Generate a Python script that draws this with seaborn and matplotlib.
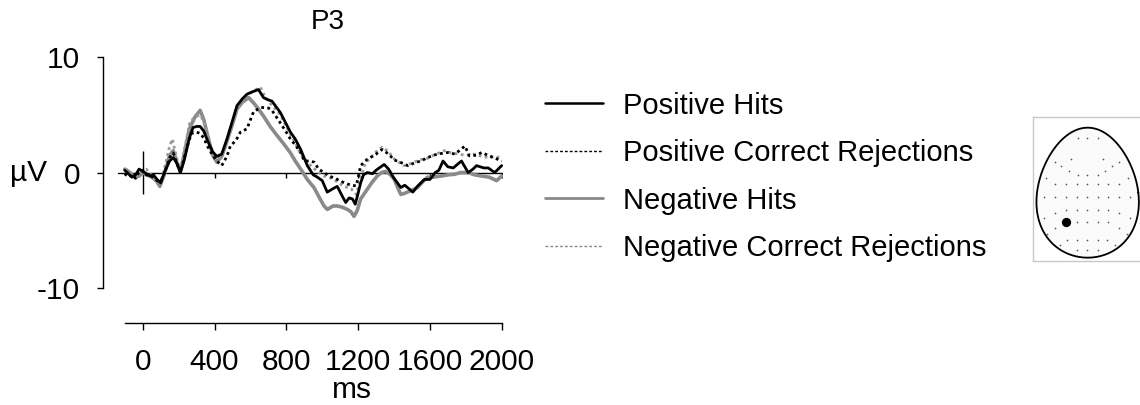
import numpy as np
import pandas as pd
import matplotlib
matplotlib.use("Agg")
import matplotlib.pyplot as plt
from matplotlib.lines import Line2D
import seaborn as sns

# --- ERP waveforms at electrode P3 (ms, microvolts) ---
pos_hits_ms = [-100, -80, -60, -40, -20, 0, 20, 40, 60, 80, 100, 120, 150, 170, 190, 210, 230, 260, 280,
               300, 320, 340, 360, 390, 413, 440, 469, 500, 525, 555, 581, 610, 645, 673, 700, 720, 767,
               800, 823, 850, 880, 917, 950, 973, 1000, 1028, 1060, 1084, 1110, 1131, 1150, 1169, 1184,
               1200, 1214, 1230, 1251, 1280, 1300, 1345, 1370, 1400, 1438, 1460, 1505, 1530, 1569, 1600,
               1630, 1650, 1673, 1700, 1730, 1760, 1776, 1813, 1840, 1860, 1900, 1925, 1961, 2000]
pos_hits_uv = [0.2, -0.1, -0.4, -0.2, 0.3, 0.1, -0.1, -0.3, -0.2, -0.6, -0.9, 0.0, 1.0, 1.3, 0.8, 0.0, 1.0,
               3.0, 3.9, 4.0, 4.0, 3.6, 2.8, 1.8, 1.4, 1.6, 2.9, 4.5, 5.8, 6.4, 6.8, 7.0, 7.2, 6.5, 6.3, 6.2,
               5.2, 4.2, 3.5, 2.9, 2.0, 0.6, -0.2, -0.4, -0.7, -1.7, -1.4, -1.2, -2.0, -2.6, -2.2, -2.3,
               -2.75, -1.8, -0.9, -0.2, 0.0, -0.1, 0.2, 0.7, 0.3, -0.5, -1.3, -1.1, -1.7, -1.2, -0.6, -0.6,
               0.0, 0.2, 1.0, 0.5, 0.4, 0.8, 1.0, 0.0, 0.3, 0.6, 0.4, 0.4, 0.0, 0.6]

pos_cr_ms = [-100, -80, -60, -40, -20, 0, 20, 40, 60, 80, 100, 120, 150, 170, 190, 210, 230, 260, 280, 300,
             320, 340, 360, 390, 413, 440, 469, 488, 520, 544, 581, 618, 660, 700, 720, 767, 800, 823, 850,
             880, 900, 930, 955, 980, 1010, 1040, 1084, 1110, 1140, 1165, 1188, 1200, 1214, 1251, 1280,
             1300, 1334, 1370, 1400, 1438, 1477, 1520, 1550, 1587, 1640, 1701, 1740, 1795, 1820, 1860,
             1888, 1930, 1970, 2000]
pos_cr_uv = [-0.1, -0.4, -0.2, -0.5, 0.1, 0.2, -0.2, -0.3, -0.4, -0.7, -0.8, -0.1, 1.3, 1.7, 0.8, 0.0, 1.2,
             2.9, 3.5, 3.5, 3.4, 3.0, 2.3, 1.5, 1.0, 0.6, 1.4, 2.3, 2.8, 3.5, 3.8, 5.3, 5.65, 5.6, 5.4, 4.3,
             3.5, 2.9, 2.4, 1.74, 1.0, 1.0, 0.9, 0.3, 0.0, -0.3, -0.6, -0.8, -1.0, -1.1, -1.16, -0.5, 0.6,
             1.16, 1.4, 1.6, 2.0, 1.6, 1.1, 0.87, 0.6, 0.87, 1.0, 1.3, 1.6, 1.74, 1.6, 2.3, 1.45, 1.5,
             1.74, 1.45, 1.2, 1.0]

neg_hits_ms = [-100, -80, -60, -40, -20, 0, 20, 40, 60, 80, 95, 120, 150, 170, 190, 210, 230, 260, 290, 320,
               340, 360, 390, 413, 440, 469, 500, 525, 555, 590, 620, 650, 673, 710, 749, 790, 823, 850,
               880, 917, 954, 985, 1010, 1029, 1060, 1084, 1110, 1140, 1160, 1177, 1195, 1214, 1251, 1280,
               1307, 1330, 1354, 1380, 1402, 1420, 1438, 1460, 1490, 1531, 1560, 1587, 1620, 1664, 1700,
               1738, 1770, 1813, 1850, 1888, 1930, 1972, 2000]
neg_hits_uv = [0.3, 0.1, -0.2, -0.4, -0.3, 0.0, -0.2, -0.3, -0.5, -0.8, -1.2, -0.2, 1.5, 1.9, 0.9, 0.1, 1.5,
               3.8, 4.8, 5.4, 4.6, 3.3, 1.5, 0.9, 1.4, 2.7, 4.2, 5.5, 6.1, 6.5, 6.0, 5.4, 4.9, 4.0, 3.2,
               2.4, 1.7, 1.0, 0.3, -0.6, -1.3, -2.2, -2.9, -3.2, -2.9, -2.9, -3.0, -3.2, -3.4, -3.8, -3.3,
               -2.3, -1.45, -0.8, -0.3, 0.0, 0.1, -0.2, -0.6, -1.3, -1.9, -1.8, -1.6, -1.3, -0.8, -0.4,
               -0.4, -0.3, -0.2, -0.15, 0.0, 0.0, -0.2, -0.3, -0.4, -0.7, -0.3]

neg_cr_ms = [-100, -80, -60, -40, -20, 0, 20, 40, 60, 80, 100, 120, 150, 165, 190, 210, 230, 263, 290, 320,
             340, 360, 390, 413, 440, 469, 500, 525, 555, 590, 620, 655, 680, 710, 740, 767, 800, 823, 850,
             880, 917, 950, 980, 1010, 1050, 1084, 1120, 1160, 1190, 1214, 1240, 1270, 1300, 1334, 1370,
             1400, 1455, 1500, 1540, 1580, 1620, 1680, 1720, 1760, 1800, 1850, 1888, 1930, 1970, 2000]
neg_cr_uv = [0.3, 0.2, -0.1, -0.2, 0.0, 0.1, 0.3, -0.1, -0.3, -0.8, -0.9, 0.3, 2.3, 2.9, 1.2, 0.1, 1.8,
             4.4, 4.8, 5.0, 4.4, 3.2, 1.6, 1.1, 1.5, 2.8, 4.3, 5.6, 6.3, 6.8, 7.1, 7.4, 6.6, 6.0, 5.5, 5.0,
             4.0, 3.3, 2.6, 1.6, 0.9, 0.4, 0.0, -0.3, -0.5, -0.8, -1.2, -1.4, -1.9, -0.5, 0.8, 1.3, 1.8,
             2.2, 1.8, 1.2, 0.6, 0.8, 1.1, 1.2, 1.5, 1.9, 1.7, 1.6, 1.5, 1.6, 1.4, 1.3, 1.4, 1.16]

conditions = ["Positive Hits", "Positive Correct Rejections", "Negative Hits", "Negative Correct Rejections"]
x_ticks = [0, 400, 800, 1200, 1600, 2000]
y_ticks = [-10, 0, 10]

# electrode montage for the head inset (inset pixel units), P3 is the marked one
elec_x = [143, 172, 203, 123, 220, 75, 268, 93, 245, 118, 224, 143, 172, 203, 48, 295,
          75, 108, 140, 172, 203, 235, 268,
          42, 75, 108, 140, 172, 203, 235, 268, 300,
          75, 108, 140, 172, 203, 235, 268, 42, 300,
          140, 172, 203, 235, 75, 268, 52, 292,
          112, 140, 172, 203, 232, 90, 255, 140, 172, 203]
elec_y = [128, 128, 128, 190, 190, 200, 200, 212, 212, 228, 228, 238, 238, 238, 248, 248,
          265, 265, 265, 265, 265, 265, 265,
          305, 305, 305, 305, 305, 305, 305, 305, 305,
          352, 345, 345, 345, 345, 345, 352, 368, 368,
          380, 380, 380, 380, 398, 398, 415, 415,
          433, 433, 433, 433, 433, 448, 448, 465, 465, 465]
p3_xy = (108, 380)

# long-form table for seaborn
frames = []
for name, t, v in zip(conditions,
                      [pos_hits_ms, pos_cr_ms, neg_hits_ms, neg_cr_ms],
                      [pos_hits_uv, pos_cr_uv, neg_hits_uv, neg_cr_uv]):
    frames.append(pd.DataFrame({"ms": t, "uV": v, "condition": name}))
df = pd.concat(frames, ignore_index=True)

styles = {
    "Positive Hits": dict(color="black", lw=2.0, ls="-"),
    "Positive Correct Rejections": dict(color="black", lw=2.0, ls=(0, (1, 1.2))),
    "Negative Hits": dict(color="#8a8a8a", lw=2.6, ls="-"),
    "Negative Correct Rejections": dict(color="#9a9a9a", lw=2.0, ls=(0, (1, 1.2))),
}
# legend swatches are thinner than the plotted traces
legend_styles = {
    "Positive Hits": dict(color="black", lw=1.8, ls="-"),
    "Positive Correct Rejections": dict(color="black", lw=1.0, ls=(0, (2, 1.5))),
    "Negative Hits": dict(color="#8a8a8a", lw=2.0, ls="-"),
    "Negative Correct Rejections": dict(color="#8a8a8a", lw=1.0, ls=(0, (2, 1.5))),
}

sns.set_style("white")
plt.rcParams['font.family'] = ['Liberation Sans', 'DejaVu Sans']
plt.rcParams.update({"text.color": "black", "xtick.color": "black", "ytick.color": "black",
                     "axes.labelcolor": "black"})

fig = plt.figure(figsize=(11.4, 4.05), dpi=100)
W, H = 1140, 405
ax = fig.add_axes([102.7 / W, 1 - 322.7 / H, (502.6 - 102.7) / W, (322.7 - 57.3) / H])

# reference lines: zero line, stimulus onset marker
ax.plot([-136, 2000], [0, 0], color="black", lw=1, zorder=1)
ax.vlines(x_ticks[1:], -0.45, 0, color="black", lw=1, zorder=1)
ax.vlines(0, -1.9, 1.9, color="black", lw=1, zorder=1)

# draw gray ones first so black sits on top
for name in ["Negative Hits", "Negative Correct Rejections", "Positive Correct Rejections", "Positive Hits"]:
    st = styles[name]
    sns.lineplot(data=df[df.condition == name], x="ms", y="uV", ax=ax, color=st["color"],
                 linewidth=st["lw"], linestyle=st["ls"], estimator=None, sort=True, legend=False)

ax.set_xlim(-223, 2005)
ax.set_ylim(-13.03, 10)
ax.set_xticks(x_ticks)
ax.set_yticks(y_ticks)
ax.set_yticklabels(["-10", "0", "10"])
for s in ["top", "right"]:
    ax.spines[s].set_visible(False)
ax.spines["left"].set_bounds(-10, 10)
ax.spines["bottom"].set_bounds(-100, 2000)
for s in ["left", "bottom"]:
    ax.spines[s].set_color("black")
    ax.spines[s].set_linewidth(1)
ax.tick_params(axis="x", bottom=True, direction="out", length=4.8, width=1, labelsize=21.5, pad=13.2)
ax.tick_params(axis="y", left=True, direction="out", length=4.3, width=1, labelsize=21.5, pad=12)
ax.set_xlabel("")
ax.set_ylabel("")

fig.text(10 / W, 1 - 172.8 / H, "µV", ha="left", va="center", fontsize=21.5)
fig.text(352 / W, 1 - 404 / H, "ms", ha="center", va="bottom", fontsize=21.5)
fig.text(327.5 / W, 1 - 21.7 / H, "P3", ha="center", va="center", fontsize=20)

# legend in the reference order
handles = [Line2D([], [], **legend_styles[c]) for c in conditions]
fig.legend(handles, conditions, loc="upper left",
           bbox_to_anchor=(518.7 / W, 1 - 65.3 / H), frameon=False, fontsize=21,
           handlelength=2.0, handletextpad=0.68, labelspacing=0.67)

# head inset
hax = fig.add_axes([1033 / W, 1 - 261 / H, (W - 1033) / W, (261 - 117) / H])
t = np.linspace(0, 2 * np.pi, 400)
cx, cy, a, b, k = 173, 292, 152, 195, 0.15
ex = cx + a * np.cos(t) * (1 - k * np.sin(t))
ey = cy - b * np.sin(t)
hax.fill(ex, ey, color="#fbfbfb", zorder=1)
hax.plot(ex, ey, color="black", lw=1.3, zorder=2)
hax.scatter(elec_x, elec_y, s=1.5, color="#555555", zorder=3, linewidths=0)
hax.scatter([p3_xy[0]], [p3_xy[1]], s=45, color="black", zorder=4, linewidths=0)
hax.set_xlim(9, 330)
hax.set_ylim(497, 65)
hax.set_xticks([])
hax.set_yticks([])
for s in ["top", "left", "bottom"]:
    hax.spines[s].set_color("#c8c8c8")
    hax.spines[s].set_linewidth(1)
hax.spines["right"].set_visible(False)

fig.savefig("out.png", dpi=100)
